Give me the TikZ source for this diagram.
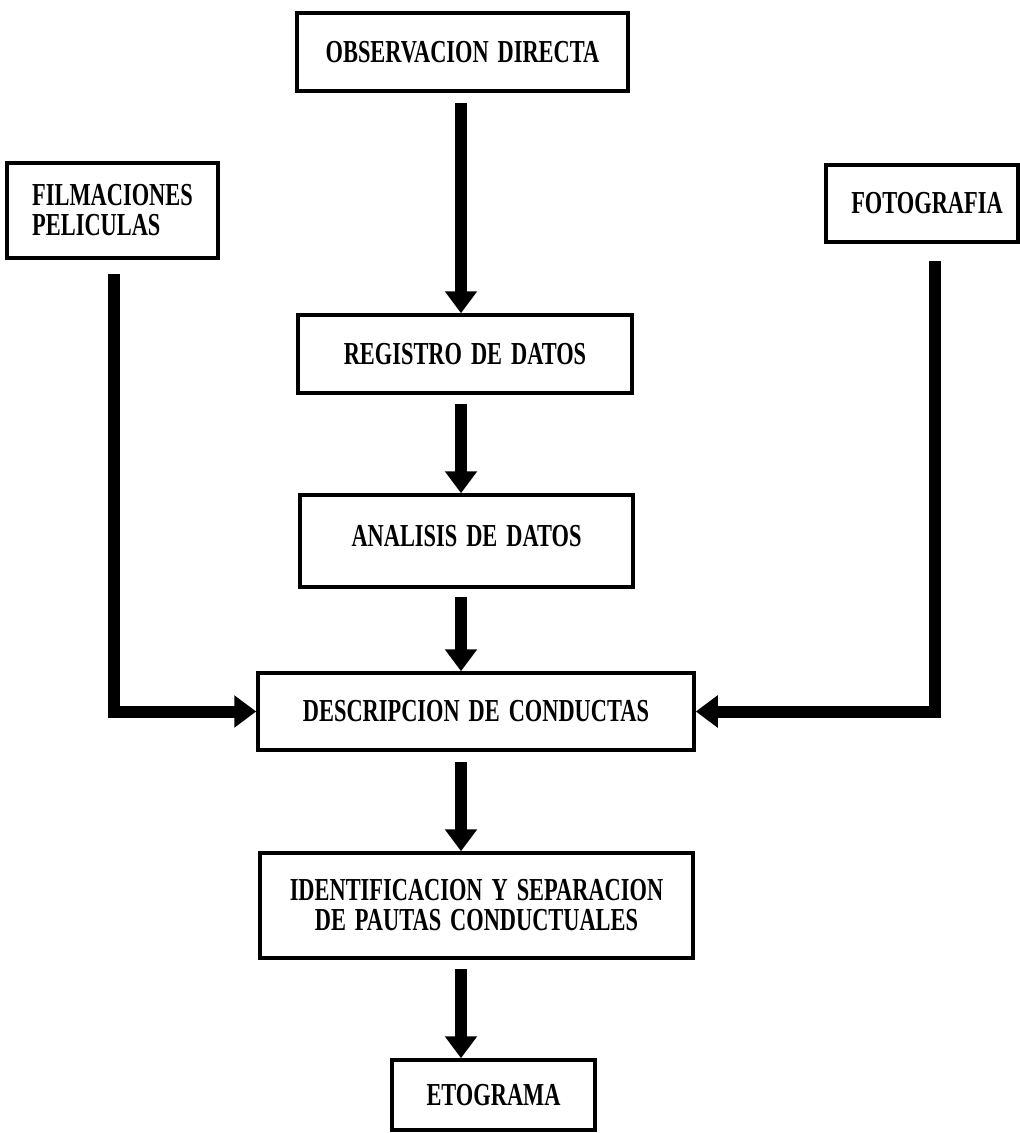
\documentclass[tikz,border=0pt]{standalone}
\usepackage{fontspec}
\setmainfont{Liberation Serif}[FakeStretch=0.7,WordSpace=1.6]
\usetikzlibrary{arrows.meta}
\begin{document}
\begin{tikzpicture}[x=1pt,y=-1pt,
  box/.style={draw, line width=3.5pt, inner sep=0pt, align=center,
    font=\fontsize{32}{30}\selectfont\bfseries},
  arr/.style={line width=12pt, -{Triangle[width=31pt,length=22pt]}}]
\useasboundingbox[fill=white] (0,0) rectangle (1020,1133);
\node[box, minimum width=331pt, minimum height=78pt] (OBS) at (462.5,52) {OBSERVACION DIRECTA};
\node[box, minimum width=211pt, minimum height=95pt, align=left] (FILM) at (112.5,210.5) {FILMACIONES\\PELICULAS};
\node[box, minimum width=192pt, minimum height=77pt] (FOTO) at (922,203.5) {\hspace*{10pt}FOTOGRAFIA};
\node[box, minimum width=334pt, minimum height=78pt] (REG) at (465,354) {REGISTRO DE DATOS};
\node[box, minimum width=333pt, minimum height=92pt] (ANAL) at (466.5,541) {\raisebox{10pt}{ANALISIS DE DATOS}};
\node[box, minimum width=436pt, minimum height=77pt] (DESCR) at (476,711.5) {DESCRIPCION DE CONDUCTAS};
\node[box, minimum width=433pt, minimum height=105pt] (IDENT) at (476.5,905.5) {IDENTIFICACION Y SEPARACION\\DE PAUTAS CONDUCTUALES};
\node[box, minimum width=203pt, minimum height=70pt] (ETO) at (493.5,1095) {ETOGRAMA};
\coordinate (cx) at (461,0);
\coordinate (lx) at (114,0);
\coordinate (rx) at (935,0);
\draw[arr, shorten <=10pt] (OBS.south -| cx) -- (REG.north -| cx);
\draw[arr, shorten <=9pt] (REG.south -| cx) -- (ANAL.north -| cx);
\draw[arr, shorten <=8pt] (ANAL.south -| cx) -- (DESCR.north -| cx);
\draw[arr, shorten <=10pt] (DESCR.south -| cx) -- (IDENT.north -| cx);
\draw[arr, shorten <=9pt] (IDENT.south -| cx) -- (ETO.north -| cx);
\draw[arr, shorten <=14pt] (FILM.south -| lx) |- (DESCR.west);
\draw[arr, shorten <=17pt] (FOTO.south -| rx) |- (DESCR.east);
\end{tikzpicture}
\end{document}
